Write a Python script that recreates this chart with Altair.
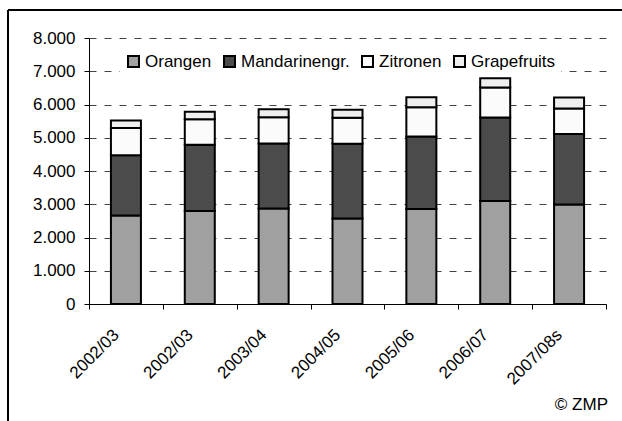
import json

import altair as alt
import pandas as pd

# Citrus imports by season (1.000 t), stacked by fruit group
seasons = ["2002/03", "2002/03", "2003/04", "2004/05", "2005/06", "2006/07", "2007/08s"]
orangen = [2660, 2800, 2870, 2570, 2860, 3100, 2990]
mandarinen = [1810, 1990, 1960, 2250, 2180, 2510, 2120]
zitronen = [820, 770, 790, 780, 880, 900, 770]
grapefruits = [230, 220, 240, 240, 300, 280, 330]

series_names = ["Orangen", "Mandarinengr.", "Zitronen", "Grapefruits"]
series_values = [orangen, mandarinen, zitronen, grapefruits]
series_colors = ["#a0a0a0", "#4b4b4b", "#fbfbfb", "#efefef"]

y_ticks = [0, 1000, 2000, 3000, 4000, 5000, 6000, 7000, 8000]
source_note = ["© ZMP"]

FONT = "Liberation Sans"
FONT_SIZE = 17

rows = []
for s_idx, (name, values) in enumerate(zip(series_names, series_values)):
    for pos, (season, v) in enumerate(zip(seasons, values)):
        rows.append({"pos": pos, "season": season, "sorte": name, "menge": v, "order": s_idx})
df = pd.DataFrame(rows)

# the first two seasons carry the same label, so the band scale runs on positions
season_label_expr = json.dumps(seasons) + "[datum.value]"
thousands_expr = "replace(format(datum.value, ','), ',', '.')"

W, H = 517, 266
LEFT, TOP = 89, 38

bars = alt.Chart(df).mark_bar(size=30, stroke="black", strokeWidth=2).encode(
    x=alt.X(
        "pos:O",
        scale=alt.Scale(paddingInner=0, paddingOuter=0),
        axis=alt.Axis(
            title=None,
            labelExpr=season_label_expr,
            labelAngle=-45,
            labelAlign="right",
            labelBaseline="middle",
            labelPadding=23,
            labelOffset=-10,
            tickBand="extent",
            tickSize=5,
            tickColor="black",
            domainColor="black",
            grid=False,
        ),
    ),
    y=alt.Y(
        "menge:Q",
        stack="zero",
        scale=alt.Scale(domain=[0, 8000], nice=False),
        axis=alt.Axis(
            title=None,
            values=y_ticks,
            labelExpr=thousands_expr,
            tickSize=5,
            labelPadding=9,
            tickColor="black",
            domainColor="black",
            grid=True,
            gridColor="#444444",
            gridDash=[7, 8],
            gridWidth=1.2,
        ),
    ),
    color=alt.Color(
        "sorte:N",
        scale=alt.Scale(domain=series_names, range=series_colors),
        legend=alt.Legend(
            title=None,
            orient="none",
            legendX=31,
            legendY=10,
            direction="horizontal",
            columns=4,
            columnPadding=8,
            symbolType="square",
            symbolSize=121,
            symbolStrokeColor="black",
            symbolStrokeWidth=2,
            labelOffset=3,
            labelLimit=0,
            fillColor="white",
            padding=5,
        ),
    ),
    order=alt.Order("order:Q", sort="ascending"),
)

note_df = pd.DataFrame({"t": source_note})

frame_left = alt.Chart(note_df).mark_rule(color="black", strokeWidth=2).encode(
    x=alt.value(8 - LEFT), y=alt.value(10 - TOP), y2=alt.value(421 - TOP)
)
frame_top = alt.Chart(note_df).mark_rule(color="black", strokeWidth=2).encode(
    y=alt.value(10 - TOP), x=alt.value(8 - LEFT), x2=alt.value(622 - LEFT)
)
note = alt.Chart(note_df).mark_text(
    align="right", baseline="alphabetic", fontSize=FONT_SIZE, font=FONT, color="black"
).encode(x=alt.value(608 - LEFT), y=alt.value(410 - TOP), text="t:N")

chart = (
    alt.layer(bars, frame_left, frame_top, note)
    .properties(
        width=W,
        height=H,
        autosize=alt.AutoSizeParams(type="none"),
        padding={"left": LEFT, "top": TOP, "right": 622 - LEFT - W, "bottom": 421 - TOP - H},
        background="white",
    )
    .configure_view(stroke="transparent")
    .configure_axis(labelFont=FONT, labelFontSize=FONT_SIZE, labelColor="black")
    .configure_legend(labelFont=FONT, labelFontSize=FONT_SIZE, labelColor="black")
)

chart.save("out.html", embed_options={"renderer": "svg", "actions": False})
